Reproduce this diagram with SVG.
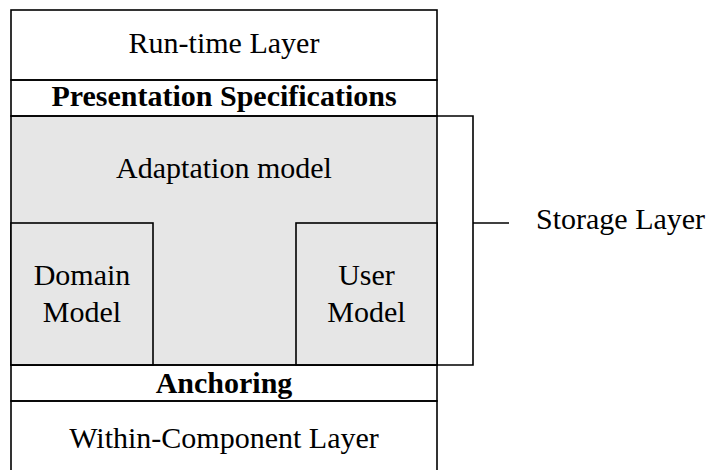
<svg xmlns="http://www.w3.org/2000/svg" width="706" height="470" viewBox="0 0 706 470">
<style>
.ln{fill:none;stroke:#000;stroke-width:1.6}
.sh{fill:#e6e6e6;stroke:#000;stroke-width:1.6}
.t{font-family:"Liberation Serif","Times New Roman",serif;font-size:30px;fill:#000;text-anchor:middle}
.b{font-weight:bold}
</style>
<rect x="0" y="0" width="706" height="470" fill="#fff"/>
<g id="storage-area">
<rect x="11" y="116" width="426" height="249" fill="#e6e6e6"/>
</g>
<g id="run-time-layer">
<rect class="ln" x="11" y="10" width="426" height="70"/>
<text class="t" x="224" y="53">Run-time Layer</text>
</g>
<g id="presentation-specifications">
<rect class="ln" x="11" y="80" width="426" height="36"/>
<text class="t b" x="224" y="106">Presentation Specifications</text>
</g>
<g id="adaptation-model">
<rect class="ln" x="11" y="116" width="426" height="249"/>
<text class="t" x="224" y="178">Adaptation model</text>
</g>
<g id="domain-model">
<rect class="sh" x="11" y="223" width="142" height="142"/>
<text class="t" x="82" y="285">Domain</text>
<text class="t" x="82" y="322">Model</text>
</g>
<g id="user-model">
<rect class="sh" x="296" y="223" width="141" height="142"/>
<text class="t" x="366.5" y="285">User</text>
<text class="t" x="366.5" y="322">Model</text>
</g>
<g id="anchoring">
<rect class="ln" x="11" y="365" width="426" height="36"/>
<text class="t b" x="224" y="393">Anchoring</text>
</g>
<g id="within-component-layer">
<rect class="ln" x="11" y="401" width="426" height="80"/>
<text class="t" x="224" y="448">Within-Component Layer</text>
</g>
<g id="connectors">
<path class="ln" d="M437,116 H473 V365 H437"/>
<line class="ln" x1="473" y1="223" x2="509" y2="223"/>
</g>
<g id="storage-layer">
<text class="t" x="536" y="229" style="text-anchor:start">Storage Layer</text>
</g>
</svg>
